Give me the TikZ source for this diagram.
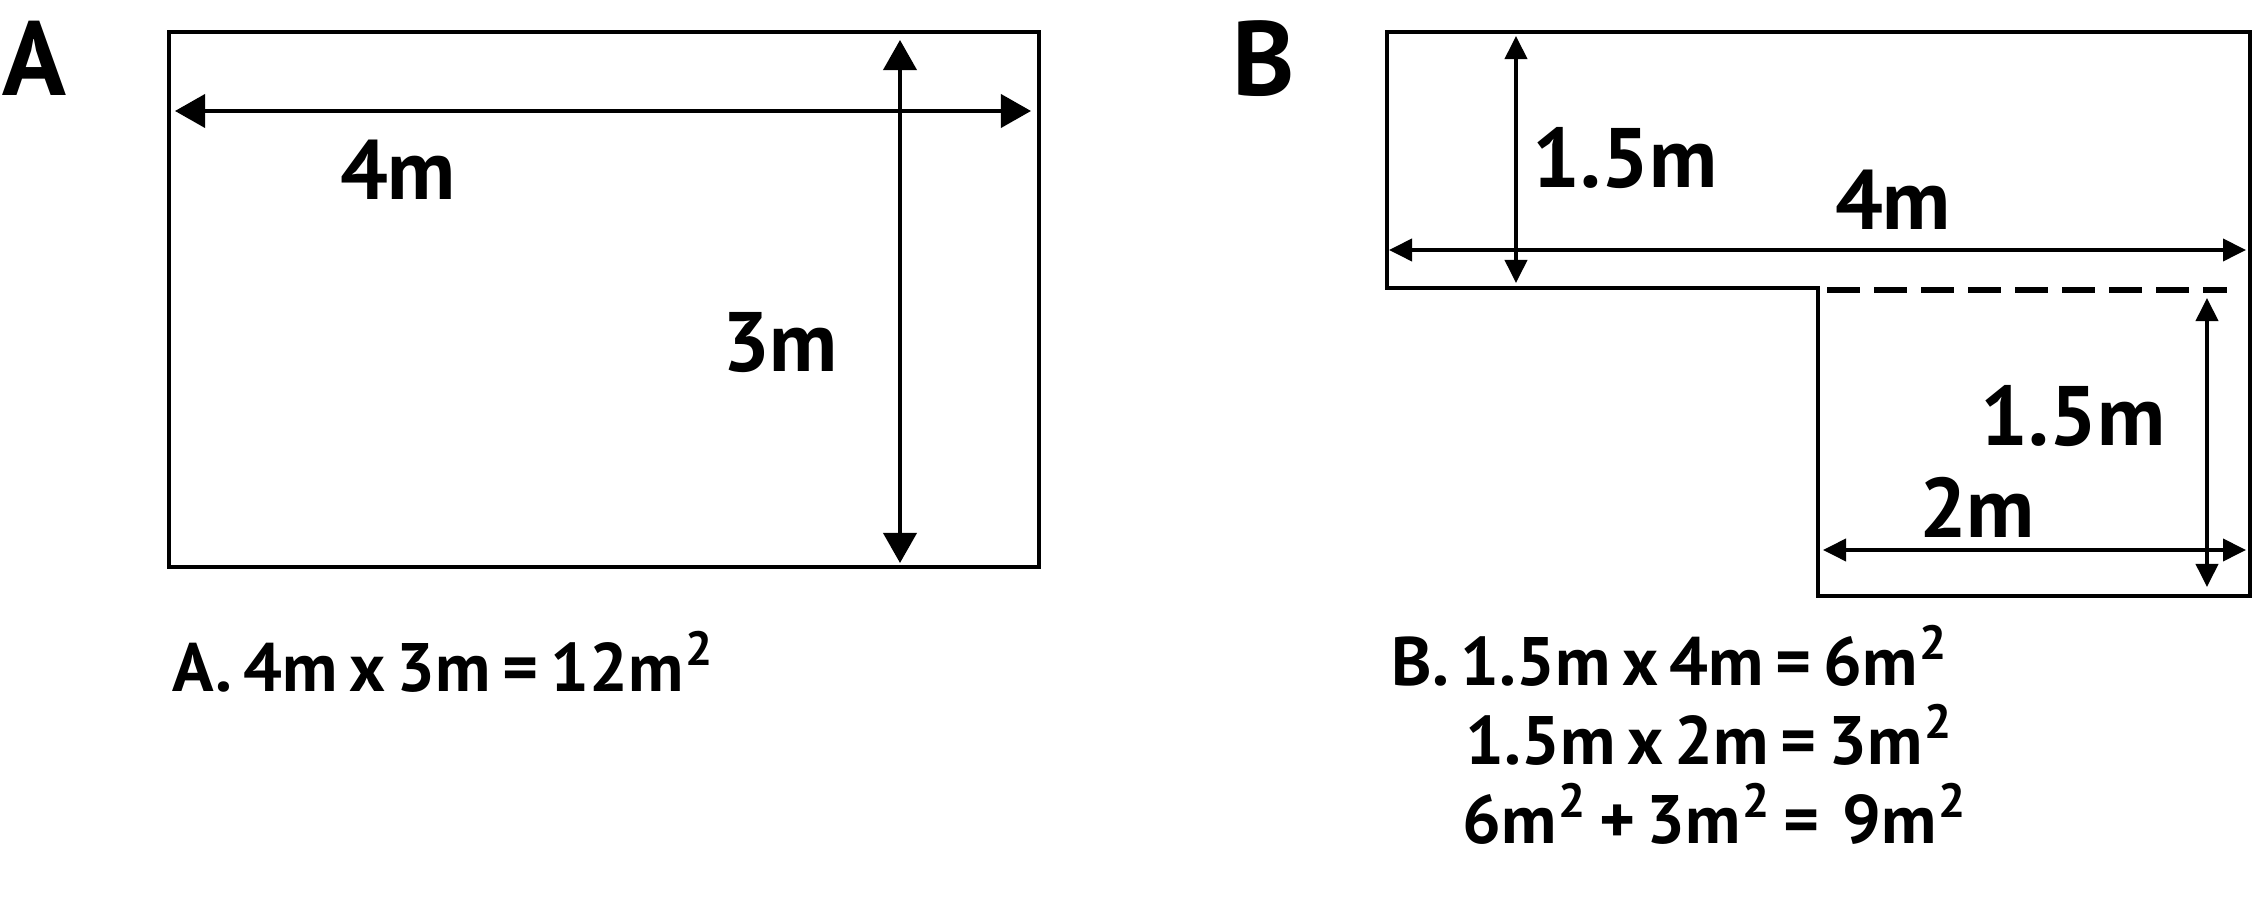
\documentclass[tikz,border=0pt]{standalone}
\usepackage{fontspec}
\setmainfont{PT Sans}
\usetikzlibrary{arrows.meta}
\newcommand{\eqfont}{\fontsize{19.5}{22}\selectfont\bfseries\spaceskip=0.17em plus 0pt\relax}
\newcommand{\sqm}{\kern0.5pt\textsuperscript{2}}
\tikzset{
  edge/.style={line width=1.1pt},
  dimbig/.style={line width=1.1pt, {Triangle[length=3mm,width=3.3mm]}-{Triangle[length=3mm,width=3.3mm]}},
  dimsmall/.style={line width=1.1pt, {Triangle[length=2.3mm,width=2.2mm]}-{Triangle[length=2.3mm,width=2.2mm]}},
  lbl/.style={inner sep=0pt, font=\fontsize{24}{28}\selectfont\bfseries},
  eq/.style={inner sep=0pt, anchor=base west, font=\eqfont},
  title/.style={inner sep=0pt, anchor=north west, font=\fontsize{30}{34}\selectfont\bfseries}
}
\begin{document}
\begin{tikzpicture}[x=0.01cm,y=-0.01cm]
\useasboundingbox (0,0) rectangle (2253,916);

% A
\node[title] (ta) at (2,20) {A};
\draw[edge] (169,32) rectangle (1039,567);
\coordinate (aw1) at (175,111);
\coordinate (aw2) at (1031,111);
\coordinate (ah1) at (900,40);
\coordinate (ah2) at (900,563);
\draw[dimbig] (aw1) -- (aw2);
\draw[dimbig] (ah1) -- (ah2);
\node[lbl] (la4) at (398,170) {4m};
\node[lbl] (la3) at (780,343) {3m};
\node[eq] (eqa) at (172,692) {A. 4m x 3m = 12m\sqm};

% B
\node[title] (tb) at (1232,20) {B};
\draw[edge] (1387,32) -- (2250,32) -- (2250,596) -- (1818,596)
  -- (1818,288) -- (1387,288) -- cycle;
\coordinate (d1) at (1827,290);
\coordinate (d2) at (2227,290);
\draw[line width=1.6pt, dash pattern=on 0.33cm off 0.14cm] (d1) -- (d2);
\coordinate (bh1) at (1516,36);
\coordinate (bh2) at (1516,283);
\coordinate (bw1) at (1389,250);
\coordinate (bw2) at (2246,250);
\coordinate (ch1) at (2207,298);
\coordinate (ch2) at (2207,587);
\coordinate (cw1) at (1823,550);
\coordinate (cw2) at (2246,550);
\draw[dimsmall] (bh1) -- (bh2);
\draw[dimsmall] (bw1) -- (bw2);
\draw[dimsmall] (ch1) -- (ch2);
\draw[dimsmall] (cw1) -- (cw2);
\node[lbl] (lb15) at (1625,158) {1.5m};
\node[lbl] (lb4) at (1893,200) {4m};
\node[lbl] (lc15) at (2073,416) {1.5m};
\node[lbl] (lc2) at (1977,507) {2m};
\node[eq] (eqb1) at (1391,686) {B. 1.5m x 4m = 6m\sqm};
\node[eq] (eqb2) at (1465,765) {1.5m x 2m = 3m\sqm};
\node[eq] (eqb3) at (1462,844) {6m\sqm{} + 3m\sqm{} =\ \ 9m\sqm};

\end{tikzpicture}
\end{document}
